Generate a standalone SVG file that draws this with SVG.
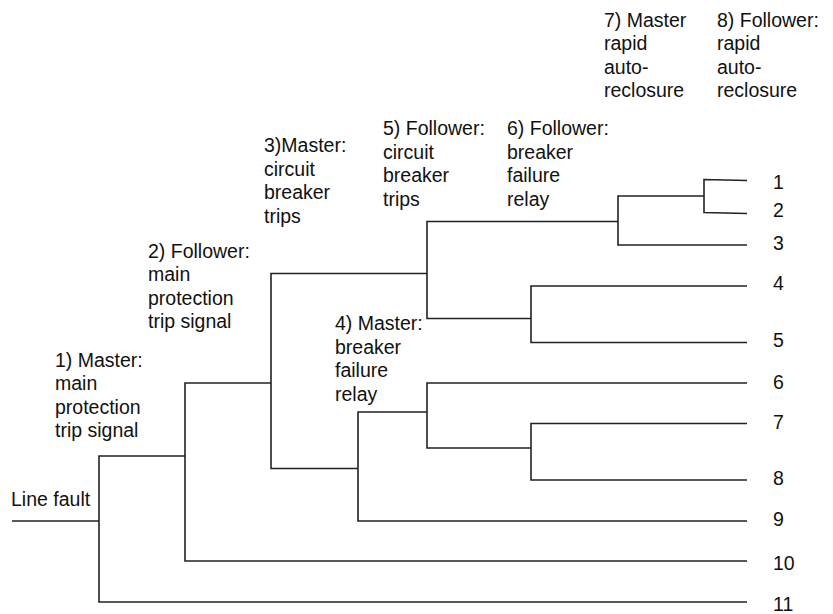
<svg xmlns="http://www.w3.org/2000/svg" width="833" height="614" viewBox="0 0 833 614">
  <style>
    text { font-family: "Liberation Sans", Arial, Helvetica, sans-serif; font-size: 19.5px; fill: #111; }
    .conn { fill: none; stroke: #222; stroke-width: 1.6; }
  </style>
  <rect x="0" y="0" width="833" height="614" fill="#fff"/>
  <g id="connectors">
    <path class="conn" d="M12 521 H99"/>
    <path class="conn" d="M185 456 H99 V602 H747"/>
    <path class="conn" d="M271 383 H185 V561 H747"/>
    <path class="conn" d="M427 273.5 H271 V468.5 H358"/>
    <path class="conn" d="M618 221.5 H427 V318.5 H531"/>
    <path class="conn" d="M704 196 H618 V245 H747"/>
    <path class="conn" d="M747 180.5 L704 179.5 V212.5 L747 213.5"/>
    <path class="conn" d="M747 286 H531 V342.5 H747"/>
    <path class="conn" d="M427 412 H358 V521 H747"/>
    <path class="conn" d="M747 383 H427 V448 H531"/>
    <path class="conn" d="M747 423.5 H531 V480 H747"/>
  </g>
  <g id="line-fault"><text x="11" y="506">Line fault</text></g>
  <g id="step1">
    <text x="55" y="366.5">1) Master:</text>
    <text x="55" y="390">main</text>
    <text x="55" y="413.5">protection</text>
    <text x="55" y="437">trip signal</text>
  </g>
  <g id="step2">
    <text x="148" y="257.5">2) Follower:</text>
    <text x="148" y="281">main</text>
    <text x="148" y="304.5">protection</text>
    <text x="148" y="328">trip signal</text>
  </g>
  <g id="step3">
    <text x="264" y="152">3)Master:</text>
    <text x="264" y="175.5">circuit</text>
    <text x="264" y="199">breaker</text>
    <text x="264" y="222.5">trips</text>
  </g>
  <g id="step4">
    <text x="335" y="330">4) Master:</text>
    <text x="335" y="353.5">breaker</text>
    <text x="335" y="377">failure</text>
    <text x="335" y="400.5">relay</text>
  </g>
  <g id="step5">
    <text x="383" y="135">5) Follower:</text>
    <text x="383" y="158.5">circuit</text>
    <text x="383" y="182">breaker</text>
    <text x="383" y="205.5">trips</text>
  </g>
  <g id="step6">
    <text x="507" y="135">6) Follower:</text>
    <text x="507" y="158.5">breaker</text>
    <text x="507" y="182">failure</text>
    <text x="507" y="205.5">relay</text>
  </g>
  <g id="step7">
    <text x="604" y="26.5">7) Master</text>
    <text x="604" y="50">rapid</text>
    <text x="604" y="73.5">auto-</text>
    <text x="604" y="97">reclosure</text>
  </g>
  <g id="step8">
    <text x="717" y="26.5">8) Follower:</text>
    <text x="717" y="50">rapid</text>
    <text x="717" y="73.5">auto-</text>
    <text x="717" y="97">reclosure</text>
  </g>
  <g id="leaf1"><text x="773" y="188.5">1</text></g>
  <g id="leaf2"><text x="773" y="217">2</text></g>
  <g id="leaf3"><text x="773" y="249.5">3</text></g>
  <g id="leaf4"><text x="773" y="290">4</text></g>
  <g id="leaf5"><text x="773" y="347">5</text></g>
  <g id="leaf6"><text x="773" y="388.5">6</text></g>
  <g id="leaf7"><text x="773" y="428.5">7</text></g>
  <g id="leaf8"><text x="773" y="485">8</text></g>
  <g id="leaf9"><text x="773" y="526">9</text></g>
  <g id="leaf10"><text x="773" y="569.5">10</text></g>
  <g id="leaf11"><text x="773" y="611">11</text></g>
</svg>
